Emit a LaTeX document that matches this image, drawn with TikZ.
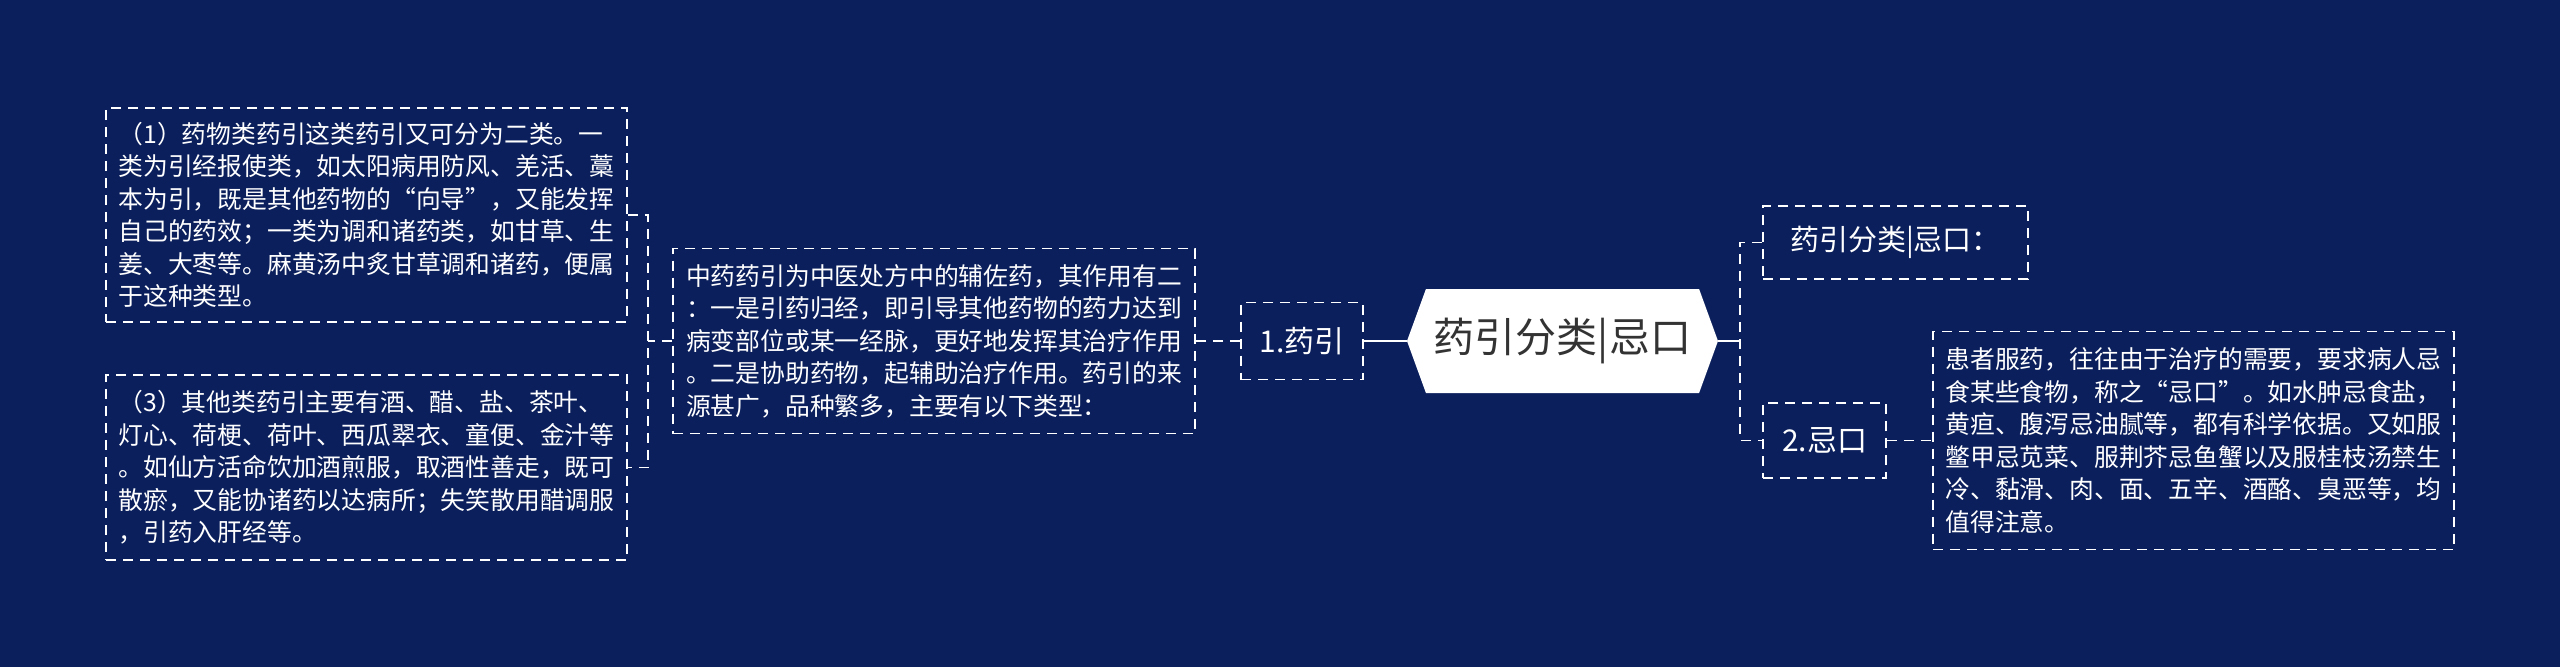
\documentclass[tikz,border=0pt]{standalone}
\usepackage{fontspec}
\setmainfont{Noto Sans CJK SC}
\usetikzlibrary{shapes.symbols}
\definecolor{bgnavy}{HTML}{0B1F5C}
\definecolor{rootgray}{HTML}{333333}

\begin{document}
\begin{tikzpicture}[x=1pt,y=-1pt]

	\tikzstyle dash line=[draw=white, line width=1.8pt, dash pattern=on 10pt off 7pt];
	\tikzstyle solid link=[draw=white, line width=2.5pt];
	\tikzstyle leaf=[dash line, text=white, align=left, inner xsep=12pt, inner ysep=8pt, font=\fontsize{24.8}{32.5}\selectfont];
	\tikzstyle branch=[dash line, text=white, inner sep=4pt, font=\fontsize{30}{36}\selectfont];

	\fill[bgnavy] (0,0) rectangle (2560,667);

	% root
	\node[signal, signal to=west and east, signal pointer angle=140, fill=white, text=rootgray,
		minimum width=311pt, minimum height=104pt, inner sep=2pt, font=\fontsize{41}{49}\selectfont] (root) at (1562.5,341) {药引分类|忌口};

	% left side
	\node[branch, minimum width=122pt, minimum height=77pt] (yy) at (1302,341) {1.药引};
	\node[leaf, minimum width=522pt, minimum height=185pt] (mid) at (934,341) {中药药引为中医处方中的辅佐药，其作用有二\\：一是引药归经，即引导其他药物的药力达到\\病变部位或某一经脉，更好地发挥其治疗作用\\。二是协助药物，起辅助治疗作用。药引的来\\源甚广，品种繁多，主要有以下类型：};
	\node[leaf, minimum width=521pt, minimum height=214pt] (box1) at (366.5,215) {（1）药物类药引这类药引又可分为二类。一\\类为引经报使类，如太阳病用防风、羌活、藁\\本为引，既是其他药物的“向导”，又能发挥\\自己的药效；一类为调和诸药类，如甘草、生\\姜、大枣等。麻黄汤中炙甘草调和诸药，便属\\于这种类型。};
	\node[leaf, minimum width=521pt, minimum height=185pt] (box3) at (366.5,467.5) {（3）其他类药引主要有酒、醋、盐、茶叶、\\灯心、荷梗、荷叶、西瓜翠衣、童便、金汁等\\。如仙方活命饮加酒煎服，取酒性善走，既可\\散瘀，又能协诸药以达病所；失笑散用醋调服\\，引药入肝经等。};

	% right side
	\node[branch, minimum width=265pt, minimum height=73pt, font=\fontsize{29}{35}\selectfont] (r1) at (1895.5,242.5) {药引分类|忌口：};
	\node[branch, minimum width=123pt, minimum height=75pt] (r2) at (1824.5,440.5) {2.忌口};
	\node[leaf, minimum width=521pt, minimum height=218pt] (rt) at (2193.5,440.5) {患者服药，往往由于治疗的需要，要求病人忌\\食某些食物，称之“忌口”。如水肿忌食盐，\\黄疸、腹泻忌油腻等，都有科学依据。又如服\\鳖甲忌苋菜、服荆芥忌鱼蟹以及服桂枝汤禁生\\冷、黏滑、肉、面、五辛、酒酪、臭恶等，均\\值得注意。};

	\coordinate (lj) at (648,341);
	\coordinate (rj) at (1740,341);

	\draw[solid link] (root.west) -- (yy.east);
	\draw[dash line] (yy.west) -- (mid.east);
	\draw[dash line] (mid.west) -- (lj);
	\draw[dash line] (box1.east) -| (lj) |- (box3.east);

	\draw[solid link] (root.east) -- (rj);
	\draw[dash line] (r1.west) -| (rj) |- (r2.west);
	\draw[dash line] (r2.east) -- (rt.west);

\end{tikzpicture}
\end{document}
